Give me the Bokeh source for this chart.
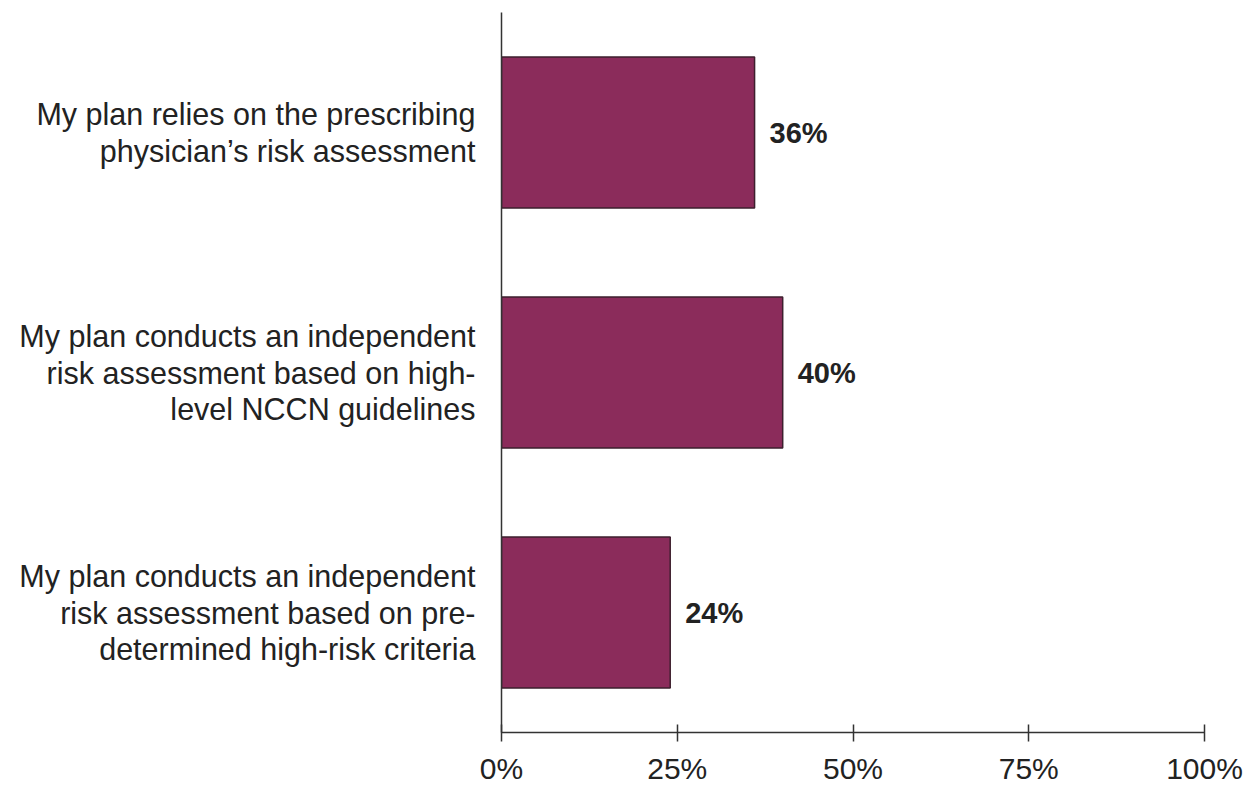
from bokeh.plotting import figure
from bokeh.models import ColumnDataSource, FactorRange, Range1d, FixedTicker, PrintfTickFormatter
from bokeh.core.properties import value
from bokeh.embed import file_html
from bokeh.resources import INLINE

categories = [
    "My plan relies on the prescribing\nphysician\u2019s risk assessment",
    "My plan conducts an independent\nrisk assessment based on high-\nlevel NCCN guidelines",
    "My plan conducts an independent\nrisk assessment based on pre-\ndetermined high-risk criteria",
]
values = [36, 40, 24]
value_labels = ["36%", "40%", "24%"]
x_ticks = [0, 25, 50, 75, 100]

FONT = "Liberation Sans"
BAR_COLOR = "#8b2c5b"

src = ColumnDataSource(dict(cat=categories, val=values, lab=value_labels))

p = figure(
    width=1252, height=787,
    y_range=FactorRange(factors=list(reversed(categories)), range_padding=0),
    x_range=Range1d(0, 100),
    output_backend="svg", toolbar_location=None,
    min_border_left=501, min_border_right=48, min_border_top=12, min_border_bottom=55,
)
p.background_fill_color = "white"
p.border_fill_color = "white"
p.outline_line_color = None
p.xgrid.grid_line_color = None
p.ygrid.grid_line_color = None

p.hbar(y="cat", right="val", left=0, height=0.63, source=src,
       fill_color=BAR_COLOR, line_color="#3d1f2e", line_width=1.5)

p.text(x="val", y="cat", text="lab", source=src, x_offset=15,
       text_align="left", text_baseline="middle",
       text_font=value(FONT), text_font_size="29px", text_font_style="bold",
       text_color="#222222")

xa = p.xaxis[0]
xa.ticker = FixedTicker(ticks=x_ticks)
xa.formatter = PrintfTickFormatter(format="%d%%")
xa.major_tick_in = 8
xa.major_tick_out = 9
xa.minor_tick_line_color = None
xa.axis_line_color = "#333333"
xa.axis_line_width = 1.5
xa.major_tick_line_color = "#333333"
xa.major_tick_line_width = 1.5
xa.major_label_text_font = FONT
xa.major_label_text_font_size = "30px"
xa.major_label_text_color = "#222222"
xa.major_label_standoff = 10

ya = p.yaxis[0]
ya.major_tick_line_color = None
ya.minor_tick_line_color = None
ya.axis_line_color = "#333333"
ya.axis_line_width = 1.5
ya.major_label_text_font = FONT
ya.major_label_text_font_size = "30.5px"
ya.major_label_text_color = "#222222"
ya.major_label_standoff = 20
ya.major_label_text_line_height = 1.08

open("out.html", "w").write(file_html(p, INLINE))
